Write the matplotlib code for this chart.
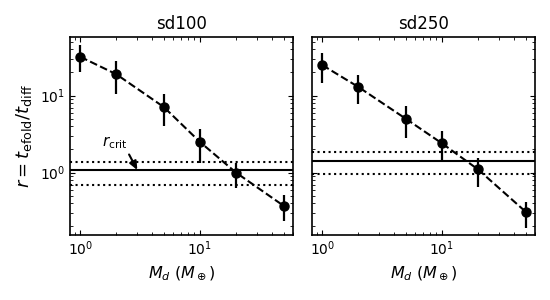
import numpy as np
import matplotlib
matplotlib.use('Agg')
import matplotlib.pyplot as plt

# masses du disque (M_earth)
masses = [1, 2, 5, 10, 20, 50]

# sd100
r_100 = [32, 19, 7.1, 2.5, 1.0, 0.37]
r_100_hi = [45, 28, 10.5, 3.7, 1.32, 0.51]
r_100_lo = [20.5, 10.4, 4.0, 1.32, 0.63, 0.235]
rcrit_100 = 1.08
rcrit_100_band = [0.68, 1.38]

# sd250
r_250 = [25, 13, 5.0, 2.4, 1.1, 0.31]
r_250_hi = [36, 18.5, 7.3, 3.45, 1.57, 0.42]
r_250_lo = [14.5, 7.7, 2.8, 1.39, 0.65, 0.19]
rcrit_250 = 1.4
rcrit_250_band = [0.95, 1.85]

titles = ['sd100', 'sd250']

plt.rcParams['xtick.direction'] = 'in'
plt.rcParams['ytick.direction'] = 'in'
plt.rcParams['xtick.top'] = True
plt.rcParams['ytick.right'] = True
plt.rcParams['axes.linewidth'] = 1.2

fig = plt.figure(figsize=(5.5, 3), dpi=100)
ax1 = fig.add_axes([0.127, 0.217, 0.406, 0.66])
ax2 = fig.add_axes([0.567, 0.217, 0.406, 0.66], sharey=ax1)

series = [
    (ax1, r_100, r_100_lo, r_100_hi, rcrit_100, rcrit_100_band),
    (ax2, r_250, r_250_lo, r_250_hi, rcrit_250, rcrit_250_band),
]

for (ax, r, lo, hi, rc, band), title in zip(series, titles):
    r = np.array(r)
    yerr = [r - np.array(lo), np.array(hi) - r]
    ax.errorbar(masses, r, yerr=yerr, fmt='o--', color='k', ms=6.5,
                lw=1.5, elinewidth=1.6, capsize=0)
    ax.axhline(rc, color='k', lw=1.5)
    for b in band:
        ax.axhline(b, color='k', lw=1.5, ls=':')
    ax.set_xscale('log')
    ax.set_yscale('log')
    ax.set_xlim(0.82, 60)
    ax.set_title(title, fontsize=12)
    ax.set_xlabel(r'$M_d\ (M_\oplus)$', fontsize=11.5)
    ax.tick_params(which='both', labelsize=10)

ax1.set_ylim(0.155, 58)
ax1.set_ylabel(r'$r = t_{\rm efold}/t_{\rm diff}$', fontsize=13)
plt.setp(ax2.get_yticklabels(), visible=False)

# étiquette r_crit avec sa flèche
ax1.text(1.95, 2.45, r'$r_{\rm crit}$', fontsize=11, ha='center', va='center')
ax1.annotate('', xy=(3.0, rcrit_100), xytext=(2.56, 1.72),
             arrowprops=dict(arrowstyle='-|>,head_length=0.5,head_width=0.22',
                             color='k', lw=1.5, shrinkA=0, shrinkB=0))

plt.savefig('out.png', dpi=100)
